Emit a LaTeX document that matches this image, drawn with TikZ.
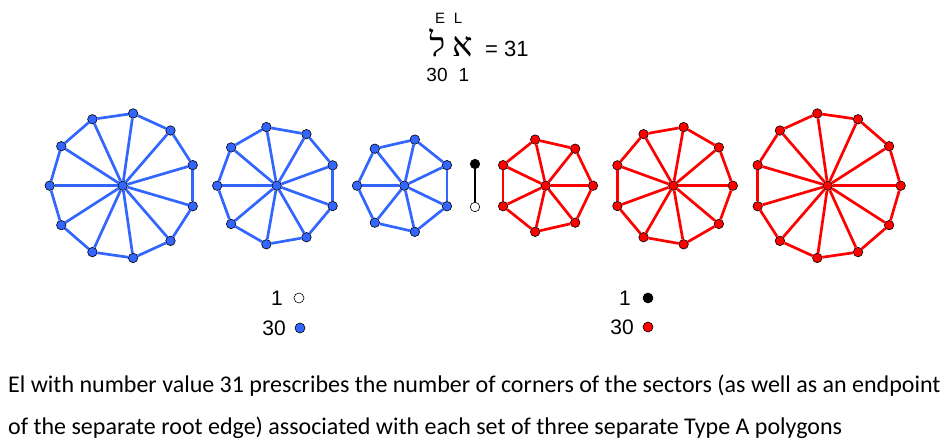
\documentclass[tikz,border=0pt]{standalone}
\usepackage{fontspec}
\setmainfont{Liberation Sans}
\newfontfamily\hebfont[Script=Hebrew]{Liberation Serif}
\newfontfamily\calfont{Carlito}
\TeXXeTstate=1
\definecolor{polyblue}{RGB}{51,102,255}
\definecolor{polyred}{RGB}{255,0,0}
\tikzset{
  dot/.style={circle,draw=black,line width=0.6pt,inner sep=0pt,minimum size=9.5pt},
  edge/.style={line width=2.7pt},
  legdot/.style={circle,draw=black,line width=0.6pt,inner sep=0pt,minimum size=10pt},
  legnum/.style={inner sep=0pt,font=\fontsize{21}{24}\selectfont},
  toplab/.style={inner sep=0pt,font=\fontsize{15}{17}\selectfont},
  hebl/.style={inner sep=0pt,font=\hebfont\fontsize{34}{36}\selectfont},
  desc/.style={inner sep=0pt,font=\calfont\fontsize{24}{28}\selectfont},
}
\begin{document}
\begin{tikzpicture}[x=1pt,y=-1pt]
  \useasboundingbox (0,0) rectangle (948,446);
  % Title
  \node[toplab] (e) at (440,18) {E};
  \node[toplab] (l) at (458,18) {L};
  \node[hebl,anchor=base] (el) at (451,57) {\beginR א\kern7ptל\endR};
  \node[inner sep=0pt,anchor=base west,font=\fontsize{22}{24}\selectfont] (sum) at (485,57) {= 31};
  \node[inner sep=0pt,font=\fontsize{19}{22}\selectfont] (v30) at (437,75) {30};
  \node[inner sep=0pt,font=\fontsize{19}{22}\selectfont] (v1) at (464,75) {1};
  % Wheels
  \foreach \w/\cx/\n/\rad/\ang/\col in {b1/122.7/11/73/180/polyblue,
      b2/276.7/9/59.5/180/polyblue, b3/404.3/7/47.3/180/polyblue,
      r1/545.7/7/47.3/0/polyred, r2/673.3/9/59.5/0/polyred,
      r3/827.7/11/73/0/polyred}{
    \node[dot,fill=\col] (\w-c) at (\cx,185.7) {};
    \foreach \k in {1,...,\n}
      \node[dot,fill=\col] (\w-v\k) at ([shift={({\ang+360*(\k-1)/\n}:\rad)}]\w-c) {};
    \foreach \k in {1,...,\n}{
      \pgfmathtruncatemacro{\nxt}{mod(\k,\n)+1}
      \draw[edge,\col] (\w-c) -- (\w-v\k);
      \draw[edge,\col] (\w-v\k) -- (\w-v\nxt);
    }
  }
  % Root edge
  \node[dot,fill=black] (rtop) at (475,164) {};
  \node[dot,fill=white] (rbot) at (475,207) {};
  \draw[edge,black] (rtop) -- (rbot);
  % Legend
  \node[legnum,anchor=east] (l1) at (283,298) {1};
  \node[legdot,fill=white] (l1d) at (299,298) {};
  \node[legnum,anchor=east] (l30) at (286,328) {30};
  \node[legdot,fill=polyblue] (l30d) at (300,328) {};
  \node[legnum,anchor=east] (r1n) at (631,298) {1};
  \node[legdot,fill=black] (r1d) at (648,298) {};
  \node[legnum,anchor=east] (r30) at (634,327) {30};
  \node[legdot,fill=polyred] (r30d) at (648,327) {};
  % Caption
  \node[desc,anchor=base west] (t1) at (8,392) {El with number value 31 prescribes the number of corners of the sectors (as well as an endpoint};
  \node[desc,anchor=base west] (t2) at (8,434) {of the separate root edge) associated with each set of three separate Type A polygons};
\end{tikzpicture}
\end{document}
